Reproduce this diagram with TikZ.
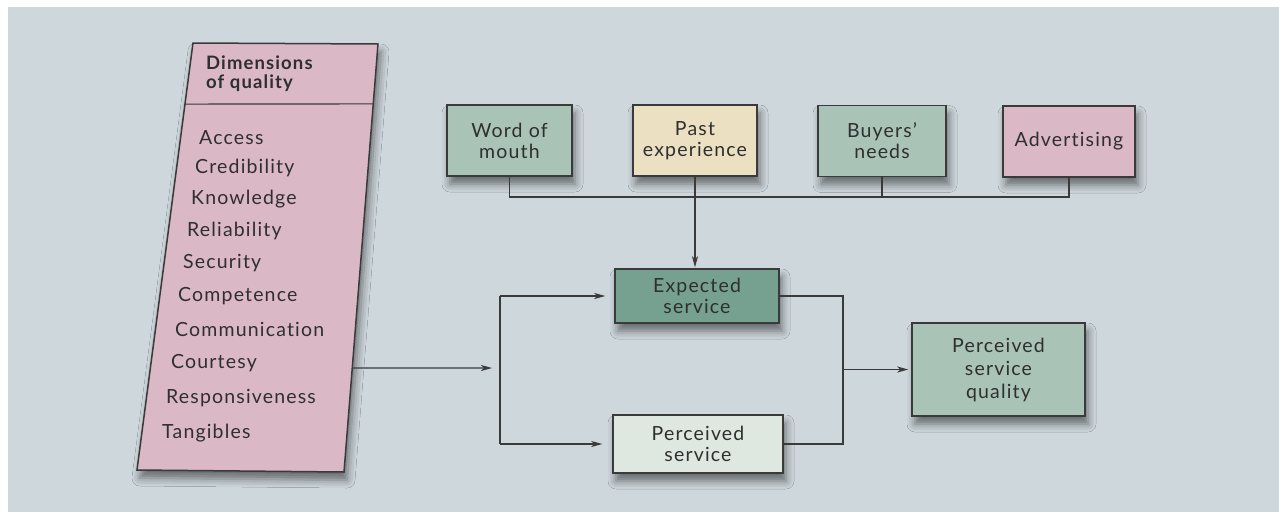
\documentclass[tikz,border=0pt]{standalone}
\usepackage{fontspec}
\setmainfont{Lato}[LetterSpace=6, Ligatures=NoCommon]
\usetikzlibrary{arrows.meta,shadows.blur,calc}
\definecolor{pagebg}{HTML}{CED7DC}
\definecolor{pinkfill}{HTML}{DBB8C5}
\definecolor{greenfill}{HTML}{A9C4B7}
\definecolor{darkgreen}{HTML}{76A190}
\definecolor{beige}{HTML}{ECE0C3}
\definecolor{palegreen}{HTML}{DFE7E1}
\definecolor{inkline}{HTML}{3A3A3A}
\definecolor{inktext}{HTML}{2F2F2F}
\tikzset{
  boxshadow/.style={blur shadow={shadow xshift=3pt, shadow yshift=-8pt, shadow blur radius=8pt, shadow opacity=50}},
  box/.style={draw=inkline, line width=1.5pt, align=center, inner sep=0pt,
    text=inktext, font=\fontsize{19.5}{21}\selectfont, boxshadow},
  item/.style={anchor=west, inner sep=0pt, text=inktext, font=\fontsize{19.5}{21}\selectfont},
  conn/.style={draw=inkline, line width=1.1pt},
  arr/.style={conn, -{Stealth[length=11pt,width=6pt,inset=3pt]}},
}
\begin{document}
\begin{tikzpicture}[x=1pt,y=-1pt]
\useasboundingbox (0,0) rectangle (1279,512);
\fill[white] (0,0) rectangle (1279,512);
\fill[pagebg] (8,7) rectangle (1279,512);

% Dimensions of quality box
\coordinate (TL) at (193,43);
\coordinate (TR) at (378,44);
\coordinate (BR) at (344,472);
\coordinate (BL) at (137,470);
\draw[draw=inkline, line width=1.5pt, fill=pinkfill, boxshadow] (TL) -- (TR) -- (BR) -- (BL) -- cycle;
\draw[inkline, line width=1.1pt] ($(TL)!0.143!(BL)$) -- ($(TR)!0.140!(BR)$);
\node[item, font=\bfseries\fontsize{18.5}{19}\selectfont, align=left] (dimhead) at (206,74) {Dimensions\\of quality};
\node[item] (d1) at (199,138) {Access};
\node[item] (d2) at (195,168) {Credibility};
\node[item] (d3) at (191,199) {Knowledge};
\node[item] (d4) at (187,231) {Reliability};
\node[item] (d5) at (183,263) {Security};
\node[item] (d6) at (178,296) {Competence};
\node[item] (d7) at (175,329) {Communication};
\node[item] (d8) at (171,363) {Courtesy};
\node[item] (d9) at (166,398) {Responsiveness};
\node[item] (d10) at (162,433) {Tangibles};
\coordinate (dimout) at ($(TR)!0.757!(BR)$);

% Top boxes
\node[box, fill=greenfill, minimum width=125pt, minimum height=71pt] (wom) at (509.5,140.5) {Word of\\mouth};
\node[box, fill=beige, minimum width=124pt, minimum height=71pt] (past) at (695,140.5) {Past\\experience};
\node[box, fill=greenfill, minimum width=128pt, minimum height=71pt] (buyers) at (882,141) {Buyers'\\needs};
\node[box, fill=pinkfill, minimum width=132pt, minimum height=71pt] (adv) at (1069,141.5) {Advertising};

% Middle boxes
\node[box, fill=darkgreen, minimum width=164pt, minimum height=54pt] (exp) at (697,296) {Expected\\service};
\node[box, fill=palegreen, minimum width=170pt, minimum height=58pt] (perc) at (698,444) {Perceived\\service};
\node[box, fill=greenfill, minimum width=173pt, minimum height=93pt, font=\fontsize{19.5}{23}\selectfont] (psq) at (998.5,369.5) {Perceived\\service\\quality};

% Connectors: top bus
\coordinate (bus) at (0,197);
\draw[conn] (wom.south) -- (wom.south |- bus) -| (adv.south);
\draw[conn] (buyers.south) -- (buyers.south |- bus);
\draw[arr, shorten >=1pt] (past.south) -- (past.south |- exp.north);

% From dimensions to the bracket
\coordinate (split) at (492,368);
\coordinate (brL) at (500,0);
\draw[arr] (dimout) -- (split);
\draw[conn] (exp.west -| brL) -- (perc.west -| brL);
\draw[arr, shorten >=9pt] (exp.west -| brL) -- (exp.west);
\draw[arr, shorten >=10pt] (perc.west -| brL) -- (perc.west);

% Right bracket
\coordinate (brR) at (843,0);
\draw[conn] (exp.east) -- (exp.east -| brR) -- (perc.east -| brR) -- (perc.east);
\draw[arr, shorten >=3pt] (brR |- psq.west) -- (psq.west);
\end{tikzpicture}
\end{document}
